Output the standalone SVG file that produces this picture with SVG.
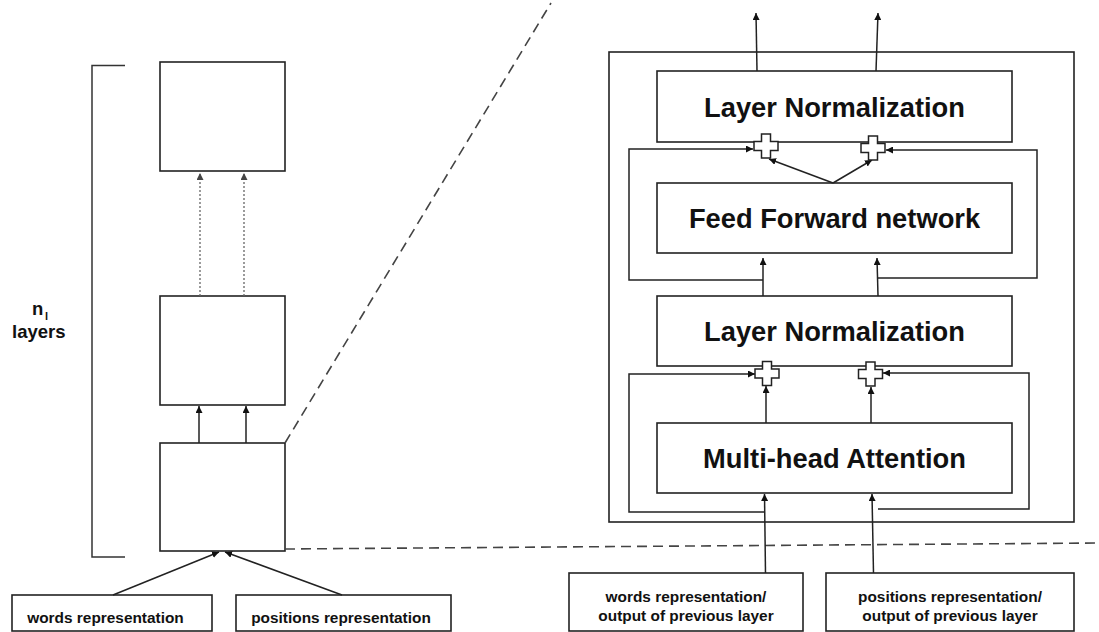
<svg xmlns="http://www.w3.org/2000/svg" width="1099" height="632" viewBox="0 0 1099 632">
<style>
.box{fill:#fff;stroke:#222;stroke-width:1.6}
.ln{fill:none;stroke:#222;stroke-width:1.5}
.dot{fill:none;stroke:#666;stroke-width:1.3;stroke-dasharray:2 2}
.dash{fill:none;stroke:#444;stroke-width:1.6;stroke-dasharray:10 6}
.br{fill:none;stroke:#333;stroke-width:1.5}
.big{font-family:"Liberation Sans",Arial,sans-serif;font-weight:bold;font-size:27.3px;fill:#111;text-anchor:middle}
.sm{font-family:"Liberation Sans",Arial,sans-serif;font-weight:bold;font-size:15.4px;fill:#111;text-anchor:middle}
.lab{font-family:"Liberation Sans",Arial,sans-serif;font-weight:bold;font-size:18.5px;fill:#111}
.sub{font-family:"Liberation Sans",Arial,sans-serif;font-weight:bold;font-size:11px;fill:#111}
.plus{fill:#fff;stroke:#222;stroke-width:1.5}
</style>
<defs>
<marker id="ah" markerUnits="userSpaceOnUse" markerWidth="8" markerHeight="7" refX="7" refY="3.5" orient="auto">
<path d="M0,0 L7,3.5 L0,7 z" fill="#111"/>
</marker>
<marker id="ahg" markerUnits="userSpaceOnUse" markerWidth="8" markerHeight="7" refX="7" refY="3.5" orient="auto">
<path d="M0,0 L7,3.5 L0,7 z" fill="#444"/>
</marker>
<path id="plus" d="M-4.5,-12 H4.5 V-4.5 H12 V4.5 H4.5 V12 H-4.5 V4.5 H-12 V-4.5 H-4.5 Z"/>
</defs>

<!-- left panel -->
<g id="bracket"><path class="br" d="M125,65.5 H92 V557 H125"/></g>
<g id="nl-label">
<text class="lab" x="32" y="315">n</text>
<text class="sub" x="45" y="320">l</text>
<text class="lab" x="12" y="338">layers</text>
</g>
<g id="layer-top"><rect class="box" x="160" y="62" width="125" height="109"/></g>
<g id="layer-mid"><rect class="box" x="160" y="296" width="125" height="109"/></g>
<g id="layer-bottom"><rect class="box" x="160" y="443" width="125" height="108"/></g>
<g id="words-rep"><rect class="box" x="12" y="595" width="200" height="36"/><text class="sm" x="105.5" y="623">words representation</text></g>
<g id="positions-rep"><rect class="box" x="236" y="595" width="215" height="36"/><text class="sm" x="341" y="623">positions representation</text></g>

<!-- right panel -->
<g id="outer"><rect class="box" x="609" y="52" width="465" height="470"/></g>
<g id="ln-top"><rect class="box" x="657" y="71" width="355" height="71"/><text class="big" x="834.5" y="116.5">Layer Normalization</text></g>
<g id="ffn"><rect class="box" x="657" y="183" width="355" height="70"/><text class="big" x="834.5" y="228">Feed Forward network</text></g>
<g id="ln-bottom"><rect class="box" x="657" y="296" width="355" height="70"/><text class="big" x="834.5" y="341">Layer Normalization</text></g>
<g id="mha"><rect class="box" x="657" y="423" width="355" height="70"/><text class="big" x="834.5" y="468">Multi-head Attention</text></g>
<g id="in-words"><rect class="box" x="569" y="573" width="234" height="58"/><text class="sm" x="686" y="602">words representation/</text><text class="sm" x="686" y="621">output of previous layer</text></g>
<g id="in-positions"><rect class="box" x="826" y="573" width="248" height="58"/><text class="sm" x="950" y="602">positions representation/</text><text class="sm" x="950" y="621">output of previous layer</text></g>

<!-- connectors -->
<g id="connectors">
<path class="dash" d="M285,443 L551,3"/>
<path class="dash" d="M285,549 L1099,543"/>
<path class="dot" d="M200,296 V173" marker-end="url(#ahg)"/>
<path class="dot" d="M244,296 V173" marker-end="url(#ahg)"/>
<path class="ln" d="M199,443 V406" marker-end="url(#ah)"/>
<path class="ln" d="M246,443 V406" marker-end="url(#ah)"/>
<path class="ln" d="M113,595 L219,552" marker-end="url(#ah)"/>
<path class="ln" d="M342,595 L225,552" marker-end="url(#ah)"/>

<path class="ln" d="M757,71 L756,13" marker-end="url(#ah)"/>
<path class="ln" d="M876,71 L878,13" marker-end="url(#ah)"/>
<path class="ln" d="M833,183 L769,159" marker-end="url(#ah)"/>
<path class="ln" d="M833,183 L872,160" marker-end="url(#ah)"/>
<path class="ln" d="M763,280 H629 V149 H753" marker-end="url(#ah)"/>
<path class="ln" d="M877,278 H1037 V150 H886" marker-end="url(#ah)"/>
<path class="ln" d="M763,296 V258" marker-end="url(#ah)"/>
<path class="ln" d="M878,296 L877,258" marker-end="url(#ah)"/>
<path class="ln" d="M766,423 V386" marker-end="url(#ah)"/>
<path class="ln" d="M871,423 V387" marker-end="url(#ah)"/>
<path class="ln" d="M764,512 H629 V374 H755" marker-end="url(#ah)"/>
<path class="ln" d="M878,509 H1029 V373 H883" marker-end="url(#ah)"/>
<path class="ln" d="M765.5,573 L764.5,494" marker-end="url(#ah)"/>
<path class="ln" d="M873.5,573 L872,494" marker-end="url(#ah)"/>
</g>
<g id="add-1"><use href="#plus" class="plus" x="766" y="146"/></g>
<g id="add-2"><use href="#plus" class="plus" x="873" y="148"/></g>
<g id="add-3"><use href="#plus" class="plus" x="767" y="373.5"/></g>
<g id="add-4"><use href="#plus" class="plus" x="870.5" y="374"/></g>
</svg>
